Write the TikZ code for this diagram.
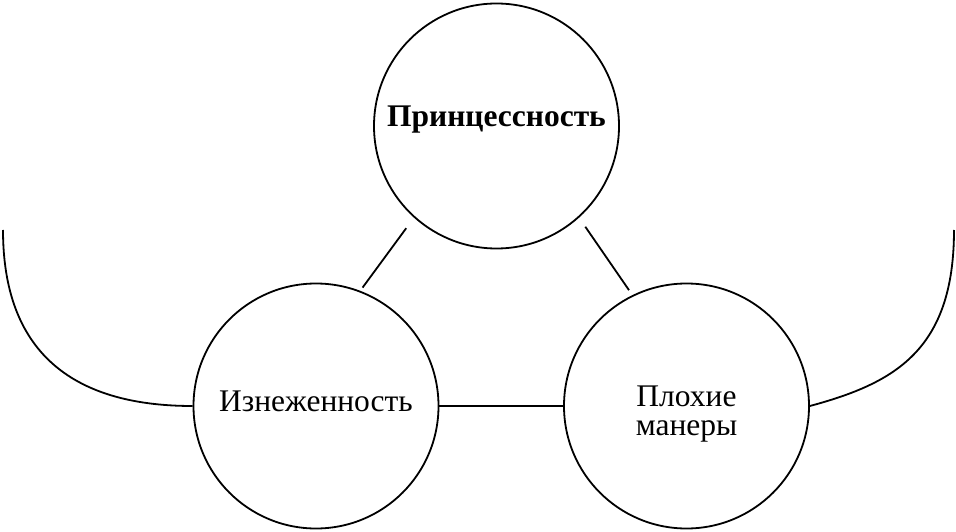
\documentclass[tikz,border=0pt]{standalone}
\usepackage{fontspec}
\setmainfont{Liberation Serif}
\begin{document}
\begin{tikzpicture}[x=1pt,y=1pt,
  bubble/.style={circle, draw, line width=1.8pt, minimum size=245pt, inner sep=0pt,
    font=\fontsize{31.5}{29}\selectfont},
  link/.style={line width=1.8pt}]
\useasboundingbox (0,0) rectangle (956,531);
\node[bubble, font=\fontsize{31.5}{29}\selectfont\bfseries, text height=12pt, text depth=10pt] (top) at (496.5,405) {Принцессность};
\node[bubble, text height=15pt, text depth=5pt] (left) at (316,125) {Изнеженность};
\node[bubble, text height=15pt, text depth=15pt] (right) at (686.5,125) {\begin{tabular}[t]{@{}c@{}}Плохие\\манеры\end{tabular}};
\coordinate (lend) at (3,301);
\coordinate (rend) at (954,301);
\draw[link, shorten <=13pt, shorten >=4pt] (top.228) -- (left.69);
\draw[link, shorten <=11pt, shorten >=6pt] (top.312) -- (right.116);
\draw[link] (left) -- (right);
\draw[link] (left.west) .. controls (70,125) and (3,181) .. (lend);
\draw[link] (right.east) .. controls (895,148) and (954,181) .. (rend);
\end{tikzpicture}
\end{document}
